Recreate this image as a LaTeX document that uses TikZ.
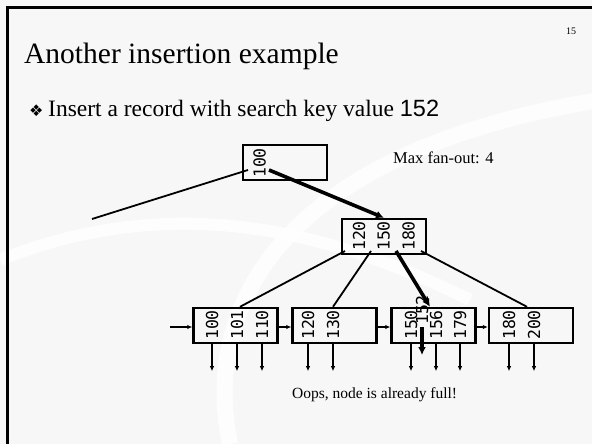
\documentclass[tikz,border=0pt]{standalone}
\usepackage{fontspec}
\setmainfont{Liberation Serif}
\newfontfamily\keyfont{DejaVu Sans Mono}
\newfontfamily\numfont{Liberation Sans}
\newfontfamily\symfont{DejaVu Sans}
\usetikzlibrary{arrows.meta}
\usetikzlibrary{positioning,calc}

\tikzset{
  nodebox/.style={draw, line width=2.4pt, minimum width=84pt, minimum height=35pt, inner sep=0pt},
  keytext/.style={rotate=90, inner sep=0pt, font=\keyfont\fontsize{16.5}{16.5}\selectfont},
  slidetext/.style={anchor=base west, inner sep=0pt},
  ptr/.style={line width=1.8pt},
  ptrarrow/.style={line width=1.8pt, -{Latex[length=5pt,width=4.5pt]}},
  bigarrow/.style={line width=3.6pt, -{Latex[length=8pt,width=8pt]}},
}

\begin{document}
\begin{tikzpicture}[x=1pt,y=-1pt]
    % Slide background
    \fill[black!3] (0,0) rectangle (592,444);
    \useasboundingbox (0,0) rectangle (592,444);
    \draw[white, line width=16pt, opacity=0.8] (230,444) .. controls (200,300) and (290,150) .. (600,100);
    \draw[white, line width=12pt, opacity=0.8] (0,260) .. controls (150,200) and (300,215) .. (470,300);
    \draw[line width=3pt] (7.5,444) -- (7.5,7.5) -- (592,7.5);

    % Titles
    \node[slidetext, font=\fontsize{10}{10}\selectfont] (pagenum) at (566,35) {15};
    \node[slidetext, font=\fontsize{29.5}{29.5}\selectfont] (title) at (24,64) {Another insertion example};
    \node[slidetext, font=\symfont\fontsize{16}{16}\selectfont] (bullet) at (29,116) {❖};
    \node[slidetext, font=\fontsize{23.5}{23.5}\selectfont] (task) at (48,117)
        {Insert a record with search key value {\numfont 152}};
    \node[slidetext, font=\fontsize{16.5}{16.5}\selectfont] (fanout) at (393,163) {Max fan-out: 4};
    \node[slidetext, font=\fontsize{15.5}{15.5}\selectfont] (oops) at (292,398) {Oops, node is already full!};

    % Root and inner node
    \node[nodebox] (root) at (285,162.5) {};
    \node[keytext] (r100) at (259.5,163) {100};
    \node[nodebox] (mid) at (384,236.5) {};
    \node[keytext] (m120) at (359,236) {120};
    \node[keytext] (m150) at (383.5,236) {150};
    \node[keytext] (m180) at (408.5,236) {180};

    % Leaves
    \node[nodebox] (leafA) at (235.5,325.5) {};
    \node[nodebox] (leafB) at (334.5,325.5) {};
    \node[nodebox] (leafC) at (433.5,325.5) {};
    \node[nodebox] (leafD) at (531,325.5) {};
    \node[keytext] (l100) at (212,325) {100};
    \node[keytext] (l101) at (237,325) {101};
    \node[keytext] (l110) at (262,325) {110};
    \node[keytext] (l120) at (308,325) {120};
    \node[keytext] (l130) at (333,325) {130};
    \node[keytext] (l150) at (411,325) {150};
    \node[keytext] (l156) at (436,325) {156};
    \node[keytext] (l179) at (460,325) {179};
    \node[keytext] (l180) at (509,325) {180};
    \node[keytext] (l200) at (534,325) {200};
    \node[keytext] (k152) at (422,310) {152};

    % Pointers of the inner nodes
    \coordinate (rp0) at (248,170);
    \coordinate (rp1) at (269,170);
    \coordinate (leftend) at (92,219);
    \coordinate (mp0) at (345,251);
    \coordinate (mp1) at (371,251);
    \coordinate (mp2) at (396,251);
    \coordinate (mp3) at (421,251);
    \draw[ptr] (rp0) -- (leftend);
    \draw[bigarrow] (rp1) -- (mid.north);
    \draw[ptr] (mp0) -- ([xshift=4.5pt]leafA.north);
    \draw[ptr] (mp1) -- ([xshift=-1.5pt]leafB.north);
    \draw[bigarrow] (mp2) -- ([xshift=-3.5pt]leafC.north);
    \draw[ptr] (mp3) -- ([xshift=-4pt]leafD.north);

    % Leaf chain
    \coordinate (chainin) at (170,327);
    \draw[ptrarrow] (chainin) -- (chainin -| leafA.west);
    \draw[ptrarrow] ([xshift=-3pt]leafA.east |- chainin) -- (leafB.west |- chainin);
    \draw[ptrarrow] ([xshift=-3pt]leafB.east |- chainin) -- (leafC.west |- chainin);
    \draw[ptrarrow] ([xshift=-3pt]leafC.east |- chainin) -- (leafD.west |- chainin);

    % Record pointers
    \foreach \k/\b in {l100/leafA, l101/leafA, l110/leafA, l120/leafB, l130/leafB,
                       l150/leafC, l156/leafC, l179/leafC, l180/leafD, l200/leafD}
        \draw[ptrarrow] (\k.center |- \b.south) -- ++(0,27);
    \draw[bigarrow] ($(k152.center)+(0,17)$) -- ++(0,28);
\end{tikzpicture}
\end{document}
